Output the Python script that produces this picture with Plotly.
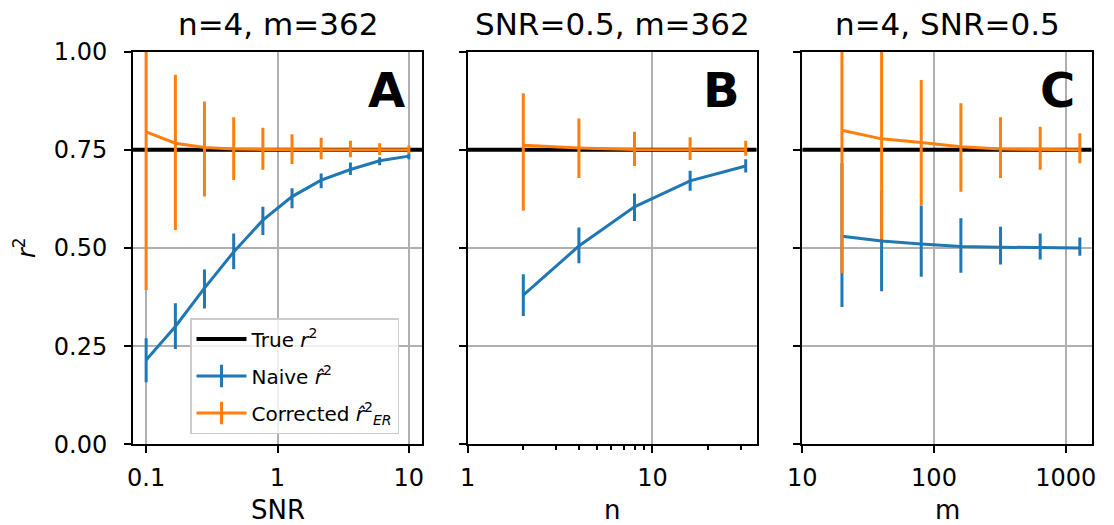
import numpy as np
import plotly.graph_objects as go

# ---------------- data ----------------
snr = [0.1, 0.167, 0.278, 0.464, 0.774, 1.29, 2.15, 3.59, 5.99, 10.0]
a_naive_mean = [0.215, 0.300, 0.398, 0.490, 0.571, 0.631, 0.673, 0.700, 0.722, 0.734]
a_naive_hi = [0.270, 0.359, 0.445, 0.537, 0.605, 0.652, 0.690, 0.718, 0.731, 0.741]
a_naive_lo = [0.158, 0.243, 0.346, 0.446, 0.533, 0.601, 0.652, 0.686, 0.711, 0.726]
a_corr_mean = [0.796, 0.767, 0.756, 0.752, 0.751, 0.750, 0.750, 0.750, 0.750, 0.750]
a_corr_hi = [1.200, 0.941, 0.873, 0.833, 0.806, 0.790, 0.781, 0.773, 0.767, 0.761]
a_corr_lo = [0.393, 0.546, 0.631, 0.673, 0.699, 0.714, 0.726, 0.731, 0.737, 0.741]

n_vals = [2, 4, 8, 16, 32]
b_naive_mean = [0.380, 0.505, 0.605, 0.671, 0.709]
b_naive_hi = [0.433, 0.552, 0.639, 0.697, 0.726]
b_naive_lo = [0.327, 0.461, 0.569, 0.646, 0.692]
b_corr_mean = [0.762, 0.755, 0.751, 0.750, 0.750]
b_corr_hi = [0.894, 0.830, 0.796, 0.782, 0.773]
b_corr_lo = [0.595, 0.678, 0.709, 0.724, 0.735]

m_vals = [20, 40, 80, 160, 320, 640, 1280]
c_naive_mean = [0.530, 0.518, 0.510, 0.504, 0.502, 0.501, 0.500]
c_naive_hi = [0.716, 0.645, 0.608, 0.576, 0.554, 0.537, 0.527]
c_naive_lo = [0.350, 0.390, 0.427, 0.437, 0.458, 0.471, 0.480]
c_corr_mean = [0.800, 0.778, 0.769, 0.758, 0.752, 0.751, 0.750]
c_corr_hi = [1.170, 1.040, 0.928, 0.869, 0.833, 0.809, 0.792]
c_corr_lo = [0.436, 0.522, 0.609, 0.643, 0.678, 0.699, 0.716]

true_r2 = 0.75

titles = ["n=4, m=362", "SNR=0.5, m=362", "n=4, SNR=0.5"]
letters = ["A", "B", "C"]
xlabels = ["SNR", "n", "m"]
y_ticks = [0.0, 0.25, 0.5, 0.75, 1.0]
y_ticktext = ["0.00", "0.25", "0.50", "0.75", "1.00"]
a_ticks = [0.1, 1, 10]
a_ticktext = ["0.1", "1", "10"]
b_ticks = [1, 10]
b_ticktext = ["1", "10"]
b_minor = [2, 3, 4, 5, 6, 7, 8, 9, 20, 30]
c_ticks = [10, 100, 1000]
c_ticktext = ["10", "100", "1000"]

BLUE = "#1f77b4"
ORANGE = "#ff7f0e"
FONT = "DejaVu Sans"
W, H = 1114, 525

def xp(px):
    return px / W

def yp(py):
    return 1 - py / H

panels_px = [(133, 422), (467.7, 756.7), (802.3, 1091.7)]
top_px, bot_px = 51.7, 444.3
x_ranges = [[-1.1, 1.1], [0, np.log10(36.7)], [1, np.log10(1575)]]

fig = go.Figure()

def err(mean, hi, lo, color):
    m = np.array(mean)
    return dict(type="data", symmetric=False,
                array=list(np.array(hi) - m), arrayminus=list(m - np.array(lo)),
                thickness=3, width=0, color=color)

sets = [
    (snr, a_naive_mean, a_naive_hi, a_naive_lo, a_corr_mean, a_corr_hi, a_corr_lo),
    (n_vals, b_naive_mean, b_naive_hi, b_naive_lo, b_corr_mean, b_corr_hi, b_corr_lo),
    (m_vals, c_naive_mean, c_naive_hi, c_naive_lo, c_corr_mean, c_corr_hi, c_corr_lo),
]
for i, (xv, nm, nh, nl, cm, ch, cl) in enumerate(sets):
    xa = "x" if i == 0 else f"x{i+1}"
    ya = "y" if i == 0 else f"y{i+1}"
    # true r^2 reference line spanning the whole x range of the panel
    r0, r1 = x_ranges[i]
    fig.add_trace(go.Scatter(x=[10 ** r0, 10 ** r1], y=[true_r2, true_r2], mode="lines",
                             line=dict(color="black", width=4), xaxis=xa, yaxis=ya,
                             name="True <i>r</i><sup>2</sup>", legendgroup="g1",
                             showlegend=(i == 0), hoverinfo="skip"))
    fig.add_trace(go.Scatter(x=xv, y=nm, mode="lines", line=dict(color=BLUE, width=3),
                             error_y=err(nm, nh, nl, BLUE), xaxis=xa, yaxis=ya, showlegend=False))
    fig.add_trace(go.Scatter(x=xv, y=cm, mode="lines", line=dict(color=ORANGE, width=3),
                             error_y=err(cm, ch, cl, ORANGE), xaxis=xa, yaxis=ya, showlegend=False))

# legend-only entries for the error-bar series
fig.add_trace(go.Scatter(x=[None], y=[None], mode="lines+markers", line=dict(color=BLUE, width=3),
                         marker=dict(symbol="line-ns", size=16, line=dict(width=3, color=BLUE)),
                         name="Naive <i>r\u0302</i><sup>2</sup>", legendgroup="g2"))
fig.add_trace(go.Scatter(x=[None], y=[None], mode="lines+markers", line=dict(color=ORANGE, width=3),
                         marker=dict(symbol="line-ns", size=16, line=dict(width=3, color=ORANGE)),
                         name="Corrected <i>r\u0302</i><sup>2</sup><sub><i>ER</i></sub>", legendgroup="g3"))

axis_common = dict(showline=True, mirror=True, linecolor="black", linewidth=2,
                   ticks="outside", ticklen=7, tickwidth=2, tickcolor="black",
                   showgrid=True, gridcolor="#b0b0b0", gridwidth=1.5, zeroline=False,
                   tickfont=dict(family=FONT, size=24, color="black"))

xinfo = [
    dict(tickvals=a_ticks, ticktext=a_ticktext),
    dict(tickvals=b_ticks, ticktext=b_ticktext,
         minor=dict(ticks="outside", ticklen=4, tickwidth=1.5, tickcolor="black",
                    tickvals=b_minor, showgrid=False)),
    dict(tickvals=c_ticks, ticktext=c_ticktext),
]
layout = {}
for i, (x0, x1) in enumerate(panels_px):
    xk = "xaxis" if i == 0 else f"xaxis{i+1}"
    yk = "yaxis" if i == 0 else f"yaxis{i+1}"
    ya = "y" if i == 0 else f"y{i+1}"
    layout[xk] = dict(axis_common, type="log", domain=[xp(x0), xp(x1)], anchor=ya,
                      range=x_ranges[i], tickmode="array", ticklabelstandoff=4, **xinfo[i])
    layout[yk] = dict(axis_common, range=[0, 1], domain=[yp(bot_px), yp(top_px)],
                      anchor="x" if i == 0 else f"x{i+1}",
                      tickmode="array", tickvals=y_ticks, ticktext=y_ticktext,
                      showticklabels=(i == 0), ticklabelstandoff=12)

annotations = []
for i, (x0, x1) in enumerate(panels_px):
    cx = (x0 + x1) / 2
    annotations.append(dict(text=titles[i], x=xp(cx), y=yp(24), xref="paper", yref="paper",
                            xanchor="center", yanchor="middle", showarrow=False,
                            font=dict(family=FONT, size=31, color="black")))
    annotations.append(dict(text=f"<b>{letters[i]}</b>", x=xp(x1 - 15), y=yp(90),
                            xref="paper", yref="paper", xanchor="right", yanchor="middle",
                            showarrow=False, font=dict(family=FONT, size=48, color="black")))
    annotations.append(dict(text=xlabels[i], x=xp(cx), y=yp(510), xref="paper", yref="paper",
                            xanchor="center", yanchor="middle", showarrow=False,
                            font=dict(family=FONT, size=26, color="black")))
annotations.append(dict(text="<i>r</i><sup>2</sup>", x=xp(25), y=yp(248), xref="paper", yref="paper",
                        xanchor="center", yanchor="middle", textangle=-90, showarrow=False,
                        font=dict(family=FONT, size=24, color="black")))

fig.update_layout(
    width=W, height=H,
    margin=dict(l=0, r=0, t=0, b=0, autoexpand=False),
    plot_bgcolor="white", paper_bgcolor="white",
    font=dict(family=FONT, color="black"),
    annotations=annotations,
    legend=dict(x=xp(190), y=yp(318), xanchor="left", yanchor="top",
                bgcolor="rgba(255,255,255,0.8)", bordercolor="#cccccc", borderwidth=1.5,
                font=dict(family=FONT, size=20, color="black"),
                itemwidth=50, traceorder="grouped", tracegroupgap=8),
    **layout,
)

fig.write_html("out.html")
